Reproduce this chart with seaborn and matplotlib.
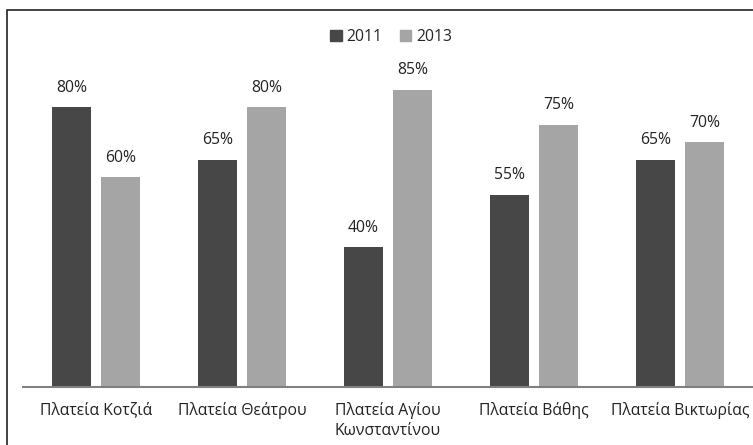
import matplotlib
matplotlib.use("Agg")
import matplotlib.pyplot as plt
import seaborn as sns
import pandas as pd
from matplotlib.patches import Rectangle

categories = ["Πλατεία Κοτζιά", "Πλατεία Θεάτρου", "Πλατεία Αγίου\nΚωνσταντίνου",
              "Πλατεία Βάθης", "Πλατεία Βικτωρίας"]
years = ["2011", "2013"]
values_2011 = [80, 65, 40, 55, 65]
values_2013 = [60, 80, 85, 75, 70]

df = pd.DataFrame({
    "place": categories * 2,
    "year": [years[0]] * 5 + [years[1]] * 5,
    "value": values_2011 + values_2013,
})

sns.set_style("white")
plt.rcParams["font.family"] = ["Open Sans", "DejaVu Sans"]

fig = plt.figure(figsize=(7.53, 4.45), dpi=100)
ax = fig.add_axes([23 / 753, 1 - 387 / 445, 1 - 23 / 753, (387 - 72) / 445])

palette = {"2011": "#474747", "2013": "#a5a5a5"}
sns.barplot(data=df, x="place", y="value", hue="year", palette=palette,
            width=0.67, gap=0.2, saturation=1, ax=ax, legend=False,
            linewidth=0)

ax.set_ylim(0, 90)
ax.set_xlim(-0.5, 4.5)
ax.set_xlabel("")
ax.set_ylabel("")
ax.set_yticks([])
ax.tick_params(axis="x", length=0, labelsize=11.3, pad=11, colors="#222222")
for lab in ax.get_xticklabels():
    lab.set_linespacing(1.35)
for s in ["top", "right", "left"]:
    ax.spines[s].set_visible(False)
ax.spines["bottom"].set_color("#808080")
ax.spines["bottom"].set_linewidth(1.5)

for cont in ax.containers:
    ax.bar_label(cont, labels=[f"{v:.0f}%" for v in cont.datavalues],
                 padding=8, fontsize=11.3, color="#222222")

# legend
handles = [Rectangle((0, 0), 1, 1, color=palette[y]) for y in years]
fig.legend(handles, years, loc="center", bbox_to_anchor=(391 / 753, 1 - 37 / 445),
           ncol=2, frameon=False, fontsize=11.3, handlelength=0.75, handleheight=0.75,
           handletextpad=0.3, columnspacing=1.1)

# outer chart frame
fig.patches.append(Rectangle((7 / 753, -0.05), 1.1, 1 - 10 / 445 + 0.05,
                             transform=fig.transFigure, fill=False,
                             edgecolor="#222222", linewidth=1.2))

fig.savefig("out.png", dpi=100)
